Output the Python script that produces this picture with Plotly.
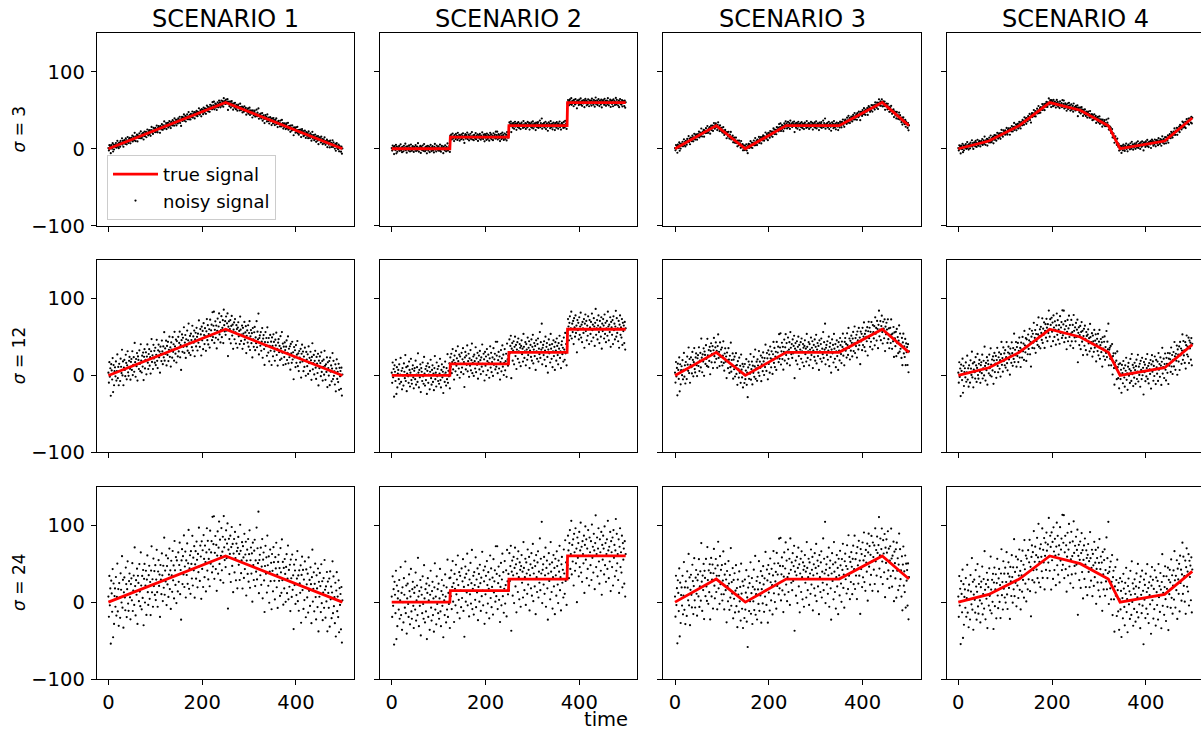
import numpy as np
import plotly.graph_objects as go

W, H = 1201, 731
FONT = "DejaVu Sans"

scenario_titles = ["SCENARIO 1", "SCENARIO 2", "SCENARIO 3", "SCENARIO 4"]
sigmas = [3, 12, 24]
sigma_labels = ["<i>σ</i> = 3", "<i>σ</i> = 12", "<i>σ</i> = 24"]

# true-signal knots (time, value) per scenario
s1_t = [0, 250, 499]
s1_v = [0, 60, 0]
s2_t = [0, 124, 125, 249, 250, 374, 375, 499]
s2_v = [0, 0, 15, 15, 30, 30, 60, 60]
s3_t = [0, 88, 150, 237, 350, 442, 499]
s3_v = [0, 30, 0, 30, 30, 60, 30]
s4_t = [0, 65, 130, 195, 260, 320, 345, 440, 499]
s4_v = [0, 10, 30, 60, 50, 30, 0, 10, 40]

time = np.arange(500)

# unit noise (tenths of sigma), same draw reused for every panel, scaled by sigma
noise_z10 = [
    3, -8, 14, -2, 7, -23, 11, 4, -6, 17, -20, 9, -13, 2, 6, -4, 12, -9, 1, 19, -7, 5, -15, 8, 0,
    -11, 13, 4, -3, 22, -6, 9, -17, 2, 10, -1, -8, 15, 6, -12, 3, 18, -5, -9, 7, 11, -2, -14, 5, 8,
    -4, 16, -10, 1, 9, -7, 24, 3, -13, 6, -2, 12, -18, 8, 4, -6, 14, -1, -9, 20, 2, -11, 7, -5, 10,
    -20, 5, 13, -8, 1, 9, -15, 4, 17, -3, -10, 6, 11, -7, 2, -16, 8, 21, -4, 3, -12, 14, -1, 7, -6,
    10, -9, 2, 18, -5, -13, 6, 12, -2, 4, -19, 9, 1, -7, 15, 3, -11, 8, -4, 23, -8, 5, -1, 13, -14,
    7, -3, 11, -10, 2, 16, -6, 4, -17, 9, 1, -8, 14, -2, 6, -12, 19, 3, -5, 10, -15, 8, 0, -9, 12,
    -4, 5, 17, -11, 2, -25, 7, 13, -6, 9, -1, 20, -8, 3, 11, -14, 6, -2, 15, -7, 4, 22, -10, 1, 8,
    -13, 10, 3, -5, 18, -9, 6, -1, 12, -16, 2, 9, -6, 14, 4, -11, 7, -3, 21, 0, -8, 11, 5, -18, 13,
    -2, 8, -12, 16, 3, -7, 10, 1, -15, 6, 19, -4, 12, -9, 2, 7, -13, 17, -1, 5, 11, -6, 24, -3, 9,
    24, -10, 4, 13, -5, 8, -17, 2, 15, -8, 6, 20, -3, 10, -12, 1, 16, -7, 3, 11, -14, 22, 5, -2, 9,
    -6, 14, -1, 7, 18, -28, 4, 10, -9, 2, 12, -13, 6, 17, -4, 8, -18, 3, 11, -7, 15, 1, -11, 9, 5,
    -15, 7, 13, -2, 4, -10, 20, 6, -6, 1, 11, -14, 9, 3, -8, 16, -3, 5, 12, -17, 2, 8, -5, 14, -9,
    6, 19, -12, 3, 10, -4, 7, -19, 13, 1, -7, 9, 15, -10, 4, -2, 22, -6, 11, 3, 31, -13, 5, 8, -3,
    12, -8, 2, 17, -15, 6, 10, -5, -22, 3, 14, -1, 8, -11, 20, 4, -7, 9, -16, 1, 13, -4, 6, -19, 11,
    2, -9, 15, 7, -3, -13, 10, 4, 18, -6, 1, -17, 8, 12, -2, 5, -10, 16, 3, -8, 21, -1, 9, -14, 6,
    -5, 11, 3, -12, 7, 14, -7, 1, 19, -10, 6, -3, 9, -16, 12, 2, -8, 15, -4, 4, -25, 10, -1, 7, -11,
    13, -6, 3, 18, -9, 5, -14, 8, 1, -4, 11, -20, 6, 16, -2, 9, -12, 4, -7, 14, 0, -16, 10, 2, -5,
    8, -13, 17, -1, 5, -9, 12, 3, -18, 7, 22, -6, 1, 10, -11, 4, 15, -3, -15, 9, 2, -8, 13, -21, 6,
    -2, 11, 4, -10, 16, -5, 7, -14, 1, 9, -7, 19, 3, -12, 5, -3, 13, -19, 8, 2, -6, 10, -16, 14, -1,
    6, -11, 3, 20, -8, 12, -4, 1, -13, 9, -20, 5, 15, -6, 2, -9, 11, -17, 7, -2, 4, -15, 8, -22, 1,
]

x_tickvals = [0, 200, 400]
x_ticktext = ["0", "200", "400"]
y_tickvals = [-100, 0, 100]
y_ticktext = ["\u2212100", "0", "100"]

# ---- geometry (pixels) ----
col_left = [96.7, 380.0, 663.3, 946.6]
panel_w = 257.4
row_top = [33.3, 260.0, 486.7]
panel_h = 192.4
x_lo, x_hi = -25, 524
px_per_unit = panel_w / (x_hi - x_lo)

knots = [(s1_t, s1_v), (s2_t, s2_v), (s3_t, s3_v), (s4_t, s4_v)]
z = np.array(noise_z10) / 10.0

fig = go.Figure()
layout = {}
for r, sig in enumerate(sigmas):
    for c, (kt, kv) in enumerate(knots):
        n = r * 4 + c + 1
        xa = "x" if n == 1 else f"x{n}"
        ya = "y" if n == 1 else f"y{n}"
        base = np.interp(time, kt, kv)
        noisy = base + sig * z
        fig.add_trace(go.Scatter(
            x=time, y=noisy, mode="markers",
            marker=dict(color="black", size=2.2, line=dict(width=0)),
            name="noisy signal", showlegend=(n == 1), legendrank=2,
            xaxis=xa, yaxis=ya, hoverinfo="skip"))
        fig.add_trace(go.Scatter(
            x=kt, y=kv, mode="lines",
            line=dict(color="red", width=2.8),
            name="true signal", showlegend=(n == 1), legendrank=1,
            xaxis=xa, yaxis=ya))

        left = col_left[c]
        right = min(left + panel_w, W)
        x_end = x_lo + (right - left) / px_per_unit
        top = row_top[r]
        bottom = top + panel_h
        xkey = "xaxis" if n == 1 else f"xaxis{n}"
        ykey = "yaxis" if n == 1 else f"yaxis{n}"
        layout[xkey] = dict(
            domain=[left / W, right / W], range=[x_lo, x_end], anchor=ya,
            automargin=False,
            tickmode="array", tickvals=x_tickvals, ticktext=x_ticktext,
            showticklabels=(r == 2), ticks="outside", ticklen=5, tickwidth=1,
            tickcolor="black", showline=True, mirror=True, linecolor="black",
            linewidth=1, showgrid=False, zeroline=False,
            tickfont=dict(family=FONT, size=19.5, color="black"))
        layout[ykey] = dict(
            domain=[1 - bottom / H, 1 - top / H], range=[-100, 150], anchor=xa,
            automargin=False,
            tickmode="array", tickvals=y_tickvals, ticktext=y_ticktext,
            showticklabels=(c == 0), ticks="outside", ticklen=5, tickwidth=1,
            ticklabelstandoff=2,
            tickcolor="black", showline=True, mirror=(c != 3), linecolor="black",
            linewidth=1, showgrid=False, zeroline=False,
            tickfont=dict(family=FONT, size=19.5, color="black"))

annotations = []
for c, title in enumerate(scenario_titles):
    cx = col_left[c] + panel_w / 2
    annotations.append(dict(
        text=title, x=cx / W, y=1 - 19 / H, xref="paper", yref="paper",
        xanchor="center", yanchor="middle", showarrow=False,
        font=dict(family=FONT, size=24, color="black")))
for r, lab in enumerate(sigma_labels):
    cy = row_top[r] + panel_h / 2
    annotations.append(dict(
        text=lab, x=19 / W, y=1 - cy / H, xref="paper", yref="paper",
        xanchor="center", yanchor="middle", textangle=-90, showarrow=False,
        font=dict(family=FONT, size=17, color="black")))
annotations.append(dict(
    text="time", x=606 / W, y=1 - 719 / H, xref="paper", yref="paper",
    xanchor="center", yanchor="middle", showarrow=False,
    font=dict(family=FONT, size=19.5, color="black")))

fig.update_layout(
    width=W, height=H,
    autosize=False,
    margin=dict(l=0, r=0, t=0, b=0, pad=0),
    paper_bgcolor="white", plot_bgcolor="white",
    font=dict(family=FONT, color="black"),
    annotations=annotations,
    legend=dict(
        x=107 / W, y=1 - 155 / H, xanchor="left", yanchor="top",
        bgcolor="rgba(255,255,255,0.8)", bordercolor="#cccccc", borderwidth=1,
        font=dict(family=FONT, size=18, color="black"),
        itemwidth=45, tracegroupgap=0),
    **layout,
)

fig.write_html("out.html")
